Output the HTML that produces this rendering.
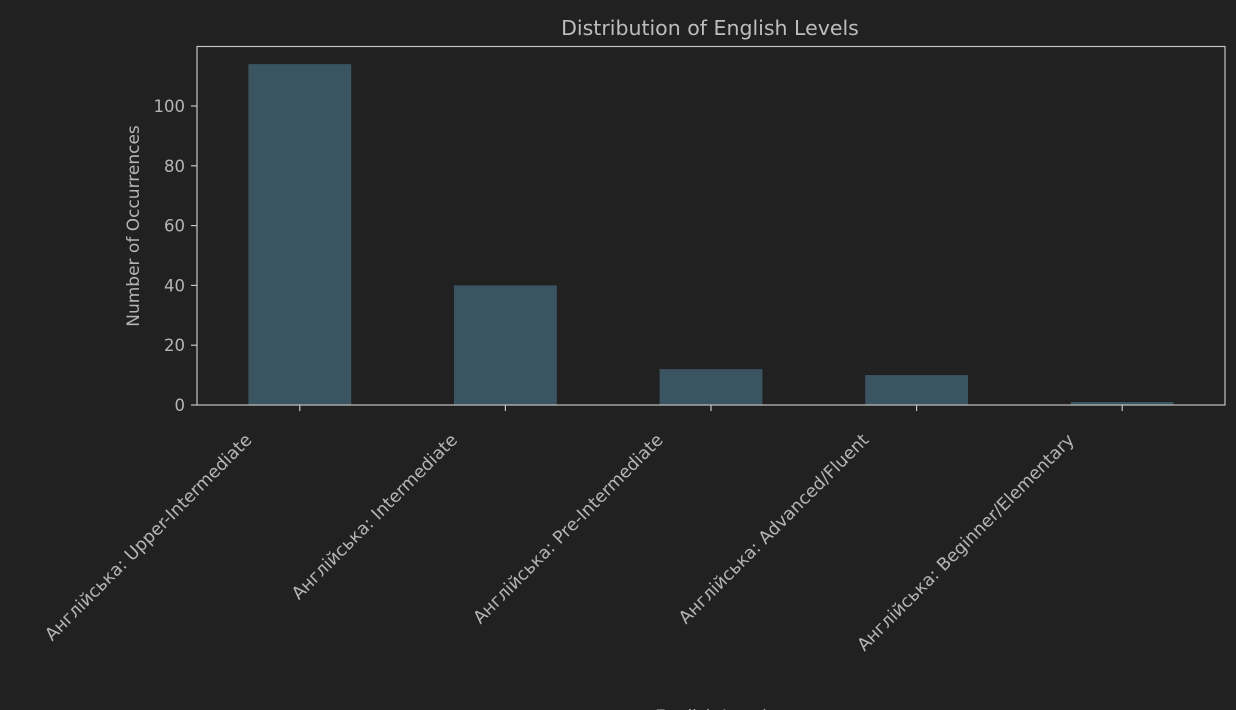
<!DOCTYPE html>
<html><head><meta charset="utf-8"><style>
html,body{margin:0;padding:0;background:#212121;}
svg{display:block;font-family:"DejaVu Sans","Liberation Sans",sans-serif;}
</style></head><body>
<svg id="chart" width="1236" height="710">
<rect width="1236" height="710" fill="#212121"/>
<text x="710" y="35" fill="#bdbdbd" font-size="20.5" text-anchor="middle">Distribution of English Levels</text>
<text transform="translate(139,226) rotate(-90)" fill="#b5b5b5" font-size="17" text-anchor="middle">Number of Occurrences</text>
<text x="711" y="722" fill="#b5b5b5" font-size="17" text-anchor="middle">English Level</text>
<g id="bars"></g><g id="yticks"></g><g id="xticks"></g>
<rect x="197" y="46.5" width="1028" height="358.5" fill="none" stroke="#c4c4c4" stroke-width="1.2"/>
</svg>
<script>
const categories = ["Англійська: Upper-Intermediate","Англійська: Intermediate","Англійська: Pre-Intermediate","Англійська: Advanced/Fluent","Англійська: Beginner/Elementary"];
const counts = [114, 40, 12, 10, 1];
const yTicks = [0, 20, 40, 60, 80, 100];
const NS="http://www.w3.org/2000/svg";
const x0=197,x1=1225,yBase=405,yTop=46.5,yMax=119.9;
const band=(x1-x0)/categories.length;
function xC(i){return x0+band*(i+0.5);}
function yS(v){return yBase-(v/yMax)*(yBase-yTop);}
function mk(t,a,p){const e=document.createElementNS(NS,t);for(const k in a)e.setAttribute(k,a[k]);p.appendChild(e);return e;}
const gb=document.getElementById('bars'),gy=document.getElementById('yticks'),gx=document.getElementById('xticks');
counts.forEach((v,i)=>{
  const w=band*0.5;
  const r=mk('rect',{x:xC(i)-w/2,y:yS(v),width:w,height:yBase-yS(v),fill:'#3a5561'},gb);
  
  
});
yTicks.forEach(t=>{
  const y=yS(t);
  const l=mk('line',{x1:191,x2:197,y1:y,y2:y,stroke:'#c4c4c4','stroke-width':1.2},gy);
  
  
  const tx=mk('text',{x:185,y:y+6,fill:'#b5b5b5','font-size':16.5,'text-anchor':'end'},gy);
  tx.textContent=t;
  
  
});
categories.forEach((c,i)=>{
  const x=xC(i);
  const l=mk('line',{x1:x,x2:x,y1:405,y2:411,stroke:'#c4c4c4','stroke-width':1.2},gx);
  
  
  const tx=mk('text',{transform:`translate(${x-47},${441}) rotate(-45)`,fill:'#b5b5b5','font-size':17.5,'text-anchor':'end'},gx);
  tx.textContent=c;
  
  
});
</script>
</body></html>
